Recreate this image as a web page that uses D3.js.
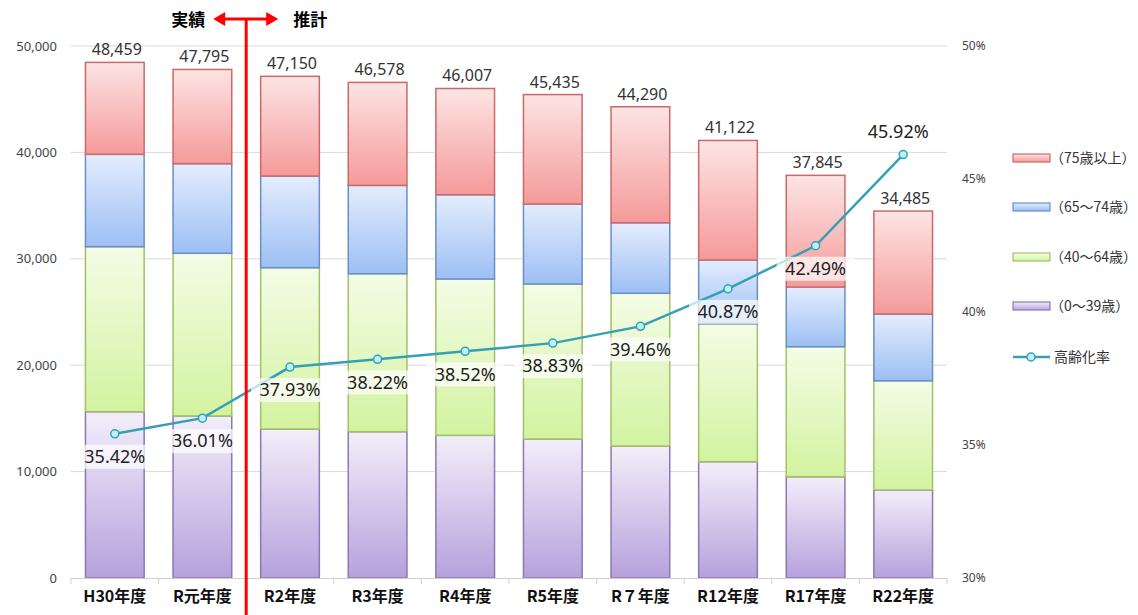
<!DOCTYPE html>
<html><head><meta charset="utf-8">
<script src="https://cdn.jsdelivr.net/npm/d3@7"></script>
<style>body{margin:0;background:#fff} text{font-family:"Noto Sans CJK JP","Noto Sans",sans-serif}</style>
</head><body>
<svg id="c" width="1138" height="615"></svg>
<script>
const categories = ["H30年度","R元年度","R2年度","R3年度","R4年度","R5年度","R７年度","R12年度","R17年度","R22年度"];
const age0_39  = [15630,15230,14000,13750,13410,13060,12400,10930,9520,8270];
const age40_64 = [15510,15290,15165,14850,14690,14570,14360,12970,12220,10270];
const age65_74 = [8680,8420,8615,8300,7920,7520,6630,5990,5610,6270];
const age75up  = [8639,8855,9370,9678,9987,10285,10900,11232,10495,9675];
const agingRate = [35.42,36.01,37.93,38.22,38.52,38.83,39.46,40.87,42.49,45.92];
const seriesNames = ["（0～39歳）","（40～64歳）","（65～74歳）","（75歳以上）"];
const rateName = "高齢化率";
const leftTicks = [0,10000,20000,30000,40000,50000];
const rightTicks = [30,35,40,45,50];
const periodLabels = ["実績","推計"];

const svg = d3.select("#c");
const W = 1138, H = 615;
svg.append("rect").attr("width",W).attr("height",H).attr("fill","#fff");

const x = d3.scaleBand().domain(categories).range([71,947]).paddingInner(0.33).paddingOuter(0.165);
const y = d3.scaleLinear().domain([0,50000]).range([578,46]);
const yr = d3.scaleLinear().domain([30,50]).range([578,46]);

const styles = [
  {top:"#f3eefa", bot:"#b6a1dc", stroke:"#8c78b2"},
  {top:"#f4fce6", bot:"#d3f3a0", stroke:"#a2c06a"},
  {top:"#e4edfd", bot:"#9dbff4", stroke:"#6a8ec6"},
  {top:"#fde4e4", bot:"#f59a9a", stroke:"#c96a6a"}
];
const defs = svg.append("defs");
styles.forEach((s,i)=>{
  const g = defs.append("linearGradient").attr("id","g"+i).attr("x1",0).attr("y1",0).attr("x2",0).attr("y2",1);
  g.append("stop").attr("offset","0%").attr("stop-color",s.top);
  g.append("stop").attr("offset","100%").attr("stop-color",s.bot);
});

// gridlines
svg.append("g").selectAll("line").data(leftTicks.filter(d=>d>0)).join("line")
  .attr("x1",71).attr("x2",947).attr("y1",d=>y(d)).attr("y2",d=>y(d))
  .attr("stroke","#d9d9d9").attr("stroke-width",1);

// left axis
const la = svg.append("g").attr("transform","translate(71,0)")
  .call(d3.axisLeft(y).tickValues(leftTicks).tickFormat(d3.format(",")).tickSize(0).tickPadding(14));
la.select(".domain").remove();
la.selectAll("text").attr("font-size",13).attr("fill","#444").style("font-family","'Noto Sans',sans-serif");

// right axis
const ra = svg.append("g").attr("transform","translate(947,0)")
  .call(d3.axisRight(yr).tickValues(rightTicks).tickFormat(d=>d+"%").tickSize(0).tickPadding(15));
ra.select(".domain").remove();
ra.selectAll("text").attr("font-size",12).attr("fill","#444").style("font-family","'Noto Sans',sans-serif");

// stacked bars
const rows = categories.map((c,i)=>({cat:c, s0:age0_39[i], s1:age40_64[i], s2:age65_74[i], s3:age75up[i]}));
const stack = d3.stack().keys(["s0","s1","s2","s3"])(rows);
stack.forEach((layer,k)=>{
  svg.append("g").selectAll("rect").data(layer).join("rect")
    .attr("x",d=>x(d.data.cat)).attr("width",x.bandwidth())
    .attr("y",d=>y(d[1])).attr("height",d=>y(d[0])-y(d[1]))
    .attr("fill","url(#g"+k+")").attr("stroke",styles[k].stroke).attr("stroke-width",1.5);
});

// x axis baseline + ticks
svg.append("line").attr("x1",71).attr("x2",947).attr("y1",578.5).attr("y2",578.5).attr("stroke","#d0d0d0");
const bounds = categories.map(c=>x(c)-x.step()*x.paddingInner()/2).concat([947]);
bounds[0]=71;
svg.append("g").selectAll("line").data(bounds).join("line")
  .attr("x1",d=>d).attr("x2",d=>d).attr("y1",578).attr("y2",584).attr("stroke","#d0d0d0");
const xa = svg.append("g").attr("transform","translate(0,578)")
  .call(d3.axisBottom(x).tickSize(0).tickPadding(13));
xa.select(".domain").remove();
xa.selectAll("text").attr("font-size",16).attr("font-weight","bold").attr("fill","#111");

// total labels
const totals = rows.map(r=>r.s0+r.s1+r.s2+r.s3);
svg.append("g").selectAll("text").data(categories).join("text")
  .attr("x",d=>x(d)+x.bandwidth()/2+2).attr("y",(d,i)=>y(totals[i])-7)
  .attr("text-anchor","middle").attr("font-size",16).attr("fill","#333")
  .style("font-family","'Noto Sans',sans-serif")
  .text((d,i)=>d3.format(",")(totals[i]));

// line
const cx = d=>x(d)+x.bandwidth()/2;
svg.append("path").datum(categories)
  .attr("d",d3.line().x(d=>cx(d)).y((d,i)=>yr(agingRate[i])))
  .attr("fill","none").attr("stroke","#34a0b6").attr("stroke-width",2.5);
svg.append("g").selectAll("circle").data(categories).join("circle")
  .attr("cx",d=>cx(d)).attr("cy",(d,i)=>yr(agingRate[i])).attr("r",4)
  .attr("fill","#bff0f6").attr("stroke","#34a0b6").attr("stroke-width",1.5);

// rate labels
const lg = svg.append("g");
categories.forEach((c,i)=>{
  const last = i===categories.length-1;
  const ly = yr(agingRate[i]) + (last ? -23 : 23);
  const lx = cx(c) + (last ? -5 : 0);
  if(!last){
    lg.append("rect").attr("x",lx-39).attr("y",ly-12).attr("width",78).attr("height",24)
      .attr("fill","#fff").attr("opacity",0.7);
  }
  lg.append("text").attr("x",lx).attr("y",ly).attr("dy","0.35em").attr("text-anchor","middle")
    .attr("font-size",18).attr("fill","#222").style("font-family","'Noto Sans',sans-serif")
    .text(agingRate[i].toFixed(2)+"%");
});

// divider
const div = (x(categories[1])+x.bandwidth()+x(categories[2]))/2;
svg.append("line").attr("x1",div).attr("x2",div).attr("y1",19).attr("y2",615)
  .attr("stroke","#f00").attr("stroke-width",3);
svg.append("line").attr("x1",div-24).attr("x2",div+22).attr("y1",19).attr("y2",19)
  .attr("stroke","#f00").attr("stroke-width",3);
svg.append("path").attr("d",`M${div-33},19 L${div-21},12 L${div-21},26 Z`).attr("fill","#f00");
svg.append("path").attr("d",`M${div+32},19 L${div+20},12 L${div+20},26 Z`).attr("fill","#f00");
svg.append("text").attr("x",div-41).attr("y",26).attr("text-anchor","end")
  .attr("font-size",17).attr("font-weight","bold").attr("fill","#000").text(periodLabels[0]);
svg.append("text").attr("x",div+47).attr("y",26).attr("text-anchor","start")
  .attr("font-size",17).attr("font-weight","bold").attr("fill","#000").text(periodLabels[1]);

// legend
const legY = [306,257,207,158];
seriesNames.forEach((n,k)=>{
  svg.append("rect").attr("x",1013).attr("y",legY[k]-4).attr("width",37).attr("height",8)
    .attr("fill","url(#g"+k+")").attr("stroke",styles[k].stroke).attr("stroke-width",1.2);
  svg.append("text").attr("x",1050).attr("y",legY[k]).attr("dy","0.35em")
    .attr("font-size",14).attr("fill","#333").text(n);
});
svg.append("line").attr("x1",1013).attr("x2",1050).attr("y1",357).attr("y2",357)
  .attr("stroke","#34a0b6").attr("stroke-width",2.5);
svg.append("circle").attr("cx",1031).attr("cy",357).attr("r",4)
  .attr("fill","#bff0f6").attr("stroke","#34a0b6").attr("stroke-width",1.5);
svg.append("text").attr("x",1054).attr("y",357).attr("dy","0.35em")
  .attr("font-size",14).attr("fill","#333").text(rateName);
</script>
</body></html>
